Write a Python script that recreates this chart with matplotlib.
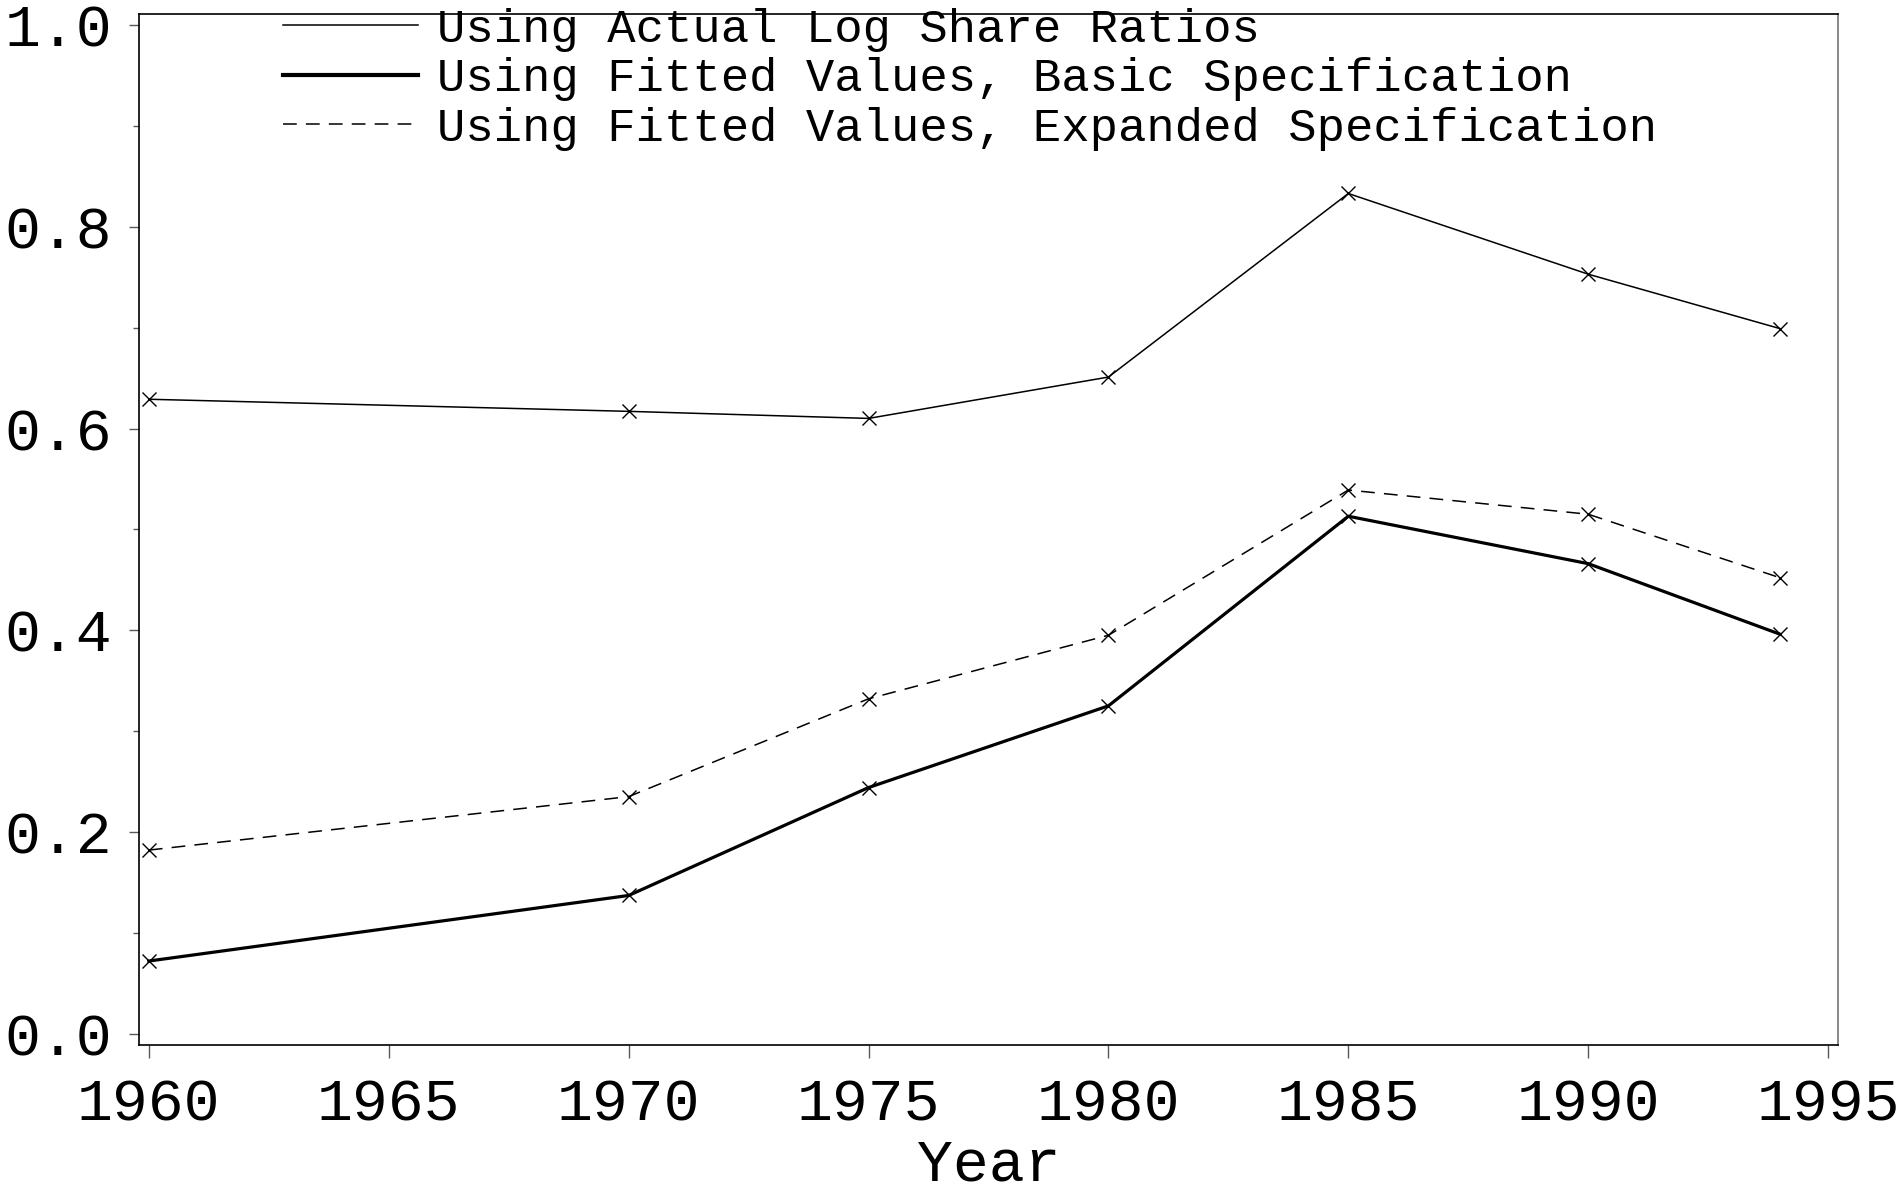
import matplotlib
matplotlib.use("Agg")
import matplotlib.pyplot as plt
from matplotlib.ticker import MultipleLocator

# values
years = [1960, 1970, 1975, 1980, 1985, 1990, 1994]
actual = [0.629, 0.617, 0.610, 0.651, 0.833, 0.753, 0.699]
basic = [0.072, 0.137, 0.244, 0.325, 0.513, 0.466, 0.396]
expanded = [0.182, 0.235, 0.332, 0.395, 0.539, 0.515, 0.452]

labels = ["Using Actual Log Share Ratios",
          "Using Fitted Values, Basic Specification",
          "Using Fitted Values, Expanded Specification"]

plt.rcParams['font.family'] = ['Liberation Mono', 'DejaVu Sans Mono']

fig = plt.figure(figsize=(19.02, 11.94), dpi=100)
ax = fig.add_axes([0.0732, 0.1250, 0.8930, 0.8633])

mk = dict(marker='x', markersize=10, markeredgewidth=1.0, color='black')
ax.plot(years, actual, lw=1.1, label=labels[0], **mk)
ax.plot(years, basic, lw=2.3, label=labels[1], **mk)
ax.plot(years, expanded, lw=1.1, dashes=(9, 6), label=labels[2], **mk)

ax.set_xlim(1959.8, 1995.2)
ax.set_ylim(-0.011, 1.011)
ax.xaxis.set_major_locator(MultipleLocator(5))
ax.yaxis.set_major_locator(MultipleLocator(0.2))
ax.yaxis.set_minor_locator(MultipleLocator(0.1))
ax.yaxis.set_major_formatter(plt.FuncFormatter(lambda v, p: f"{v:.1f}"))

ax.tick_params(axis='x', which='major', direction='out', length=9.5, width=1,
               color='0.35', labelsize=43, pad=14)
ax.tick_params(axis='y', which='major', direction='out', length=7.5, width=1,
               color='0.35', labelsize=43, pad=12)
ax.tick_params(axis='y', which='minor', direction='out', length=4, width=1,
               color='0.35')
for s in ax.spines.values():
    s.set_linewidth(1.2)
ax.spines['right'].set_color('0.45')

ax.set_xlabel("Year", fontsize=43, labelpad=4)

ax.legend(loc='upper left', bbox_to_anchor=(283 / 1902, 1 - 8 / 1194),
          bbox_transform=fig.transFigure, frameon=False, fontsize=34,
          borderpad=0, borderaxespad=0, labelspacing=0.115,
          handlelength=2.85, handletextpad=0.42)
leg = ax.get_legend()
for h in leg.get_lines():
    h.set_marker('')
leg.get_lines()[1].set_linewidth(3.0)

fig.savefig("out.png", dpi=100)
